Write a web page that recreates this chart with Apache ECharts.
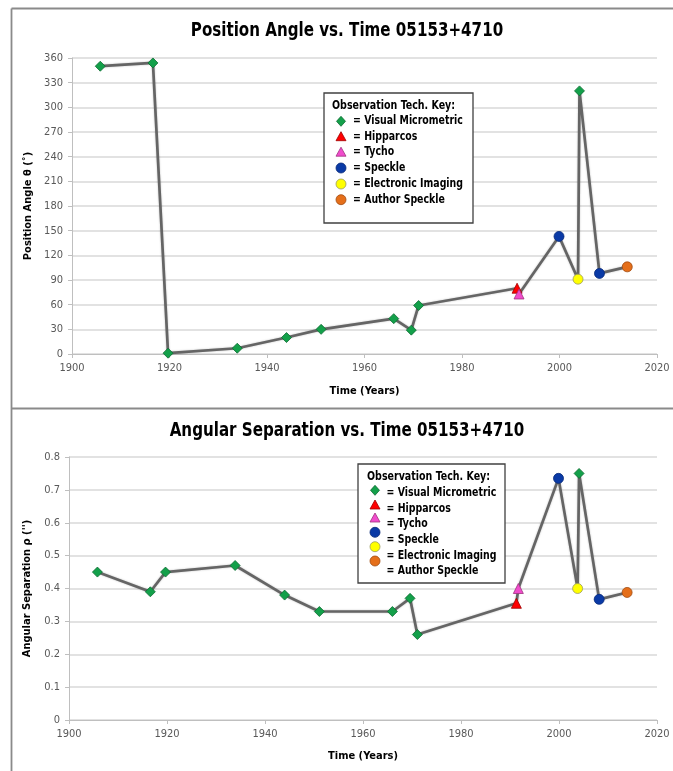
<!DOCTYPE html>
<html>
<head>
<meta charset="utf-8">
<script src="https://cdn.jsdelivr.net/npm/echarts@6/dist/echarts.min.js"></script>
<style>
  html, body { margin: 0; padding: 0; background: #fff; }
  #main { width: 673px; height: 771px; }
</style>
</head>
<body>
<div id="main"></div>
<script>
// observation data, in time order (the line joins them in this order)
var years = [1905.8, 1916.6, 1919.7, 1933.9, 1944.0, 1951.1, 1966.0, 1969.6, 1971.1,
             1991.3, 1991.7, 1999.9, 2003.8, 2004.1, 2008.2, 2013.9];
var posAngle = [350, 354, 1, 7, 20, 30, 43, 29, 59, 80, 73, 143, 91, 320, 98, 106];
var separation = [0.45, 0.39, 0.45, 0.47, 0.38, 0.33, 0.33, 0.37, 0.26,
                  0.355, 0.40, 0.735, 0.40, 0.75, 0.367, 0.388];
// technique of each observation
var tech = ['vm', 'vm', 'vm', 'vm', 'vm', 'vm', 'vm', 'vm', 'vm',
            'hip', 'tycho', 'speckle', 'ei', 'vm', 'speckle', 'author'];

var techNames = ['= Visual Micrometric', '= Hipparcos', '= Tycho', '= Speckle',
                 '= Electronic Imaging', '= Author Speckle'];
var techKeys = ['vm', 'hip', 'tycho', 'speckle', 'ei', 'author'];

var yearTicks = { min: 1900, max: 2020, interval: 20 };
var angleTicks = { min: 0, max: 360, interval: 30 };
var sepTicks = { min: 0, max: 0.8, interval: 0.1 };

var FONT = "'Liberation Sans Narrow', 'DejaVu Sans Condensed', 'Noto Sans', sans-serif";

var markStyle = {
  vm:      { symbol: 'diamond',  size: 10, color: '#13a04a', border: '#0c6a31' },
  hip:     { symbol: 'triangle', size: 10, color: '#ff0000', border: '#a00000' },
  tycho:   { symbol: 'triangle', size: 10, color: '#f04ccc', border: '#a0307f' },
  speckle: { symbol: 'circle',   size: 10, color: '#0a3aa6', border: '#082a78' },
  ei:      { symbol: 'circle',   size: 10, color: '#ffff00', border: '#9a9a60' },
  author:  { symbol: 'circle',   size: 10, color: '#e56f1a', border: '#a04a10' }
};

function buildData(values) {
  return years.map(function (y, i) {
    var s = markStyle[tech[i]];
    return {
      value: [y, values[i]],
      symbol: s.symbol,
      symbolSize: s.size,
      itemStyle: { color: s.color, borderColor: s.border, borderWidth: 0.8 }
    };
  });
}

// condensed bold text (no Calibri here, so squeeze a wider face)
function label(x, y, text, size, squeeze, align) {
  return {
    type: 'text', x: x, y: y, scaleX: squeeze, z: 11,
    style: { text: text, font: 'bold ' + size + 'px ' + FONT, fill: '#000',
             align: align || 'left', verticalAlign: 'middle' }
  };
}

function legendGraphic(box, rows) {
  var els = [];
  els.push({
    type: 'rect', shape: { x: box.x, y: box.y, width: box.w, height: box.h },
    style: { fill: '#fff', stroke: '#404040', lineWidth: 1.3 }, z: 10
  });
  els.push(label(box.hx, box.hy, 'Observation Tech. Key:', 12, 0.88));
  techKeys.forEach(function (k, i) {
    var s = markStyle[k];
    var cx = box.sx, cy = rows.symY[i], r = 5;
    var shape;
    if (s.symbol === 'diamond') {
      shape = { type: 'polygon', shape: { points: [[cx, cy - r], [cx + r - 0.5, cy], [cx, cy + r], [cx - r + 0.5, cy]] } };
    } else if (s.symbol === 'triangle') {
      shape = { type: 'polygon', shape: { points: [[cx, cy - r], [cx + r, cy + r - 1], [cx - r, cy + r - 1]] } };
    } else {
      shape = { type: 'circle', shape: { cx: cx, cy: cy, r: r } };
    }
    shape.style = { fill: s.color, stroke: s.border, lineWidth: 0.8 };
    shape.z = 11;
    els.push(shape);
    els.push(label(box.tx, rows.textY[i], techNames[i], 12, 0.87));
  });
  return els;
}

var axisLine = { show: true, lineStyle: { color: '#bfbfbf', width: 1 } };
var axisTick = { show: true, length: 4, lineStyle: { color: '#bfbfbf' } };
var axisLabel = { color: '#595959', fontSize: 11, fontFamily: FONT, margin: 9 };
var nameStyle = { color: '#000', fontWeight: 'bold', fontSize: 11, fontFamily: FONT };

function xAxis(gridIndex, gap) {
  return {
    type: 'value', gridIndex: gridIndex,
    min: yearTicks.min, max: yearTicks.max, interval: yearTicks.interval,
    name: 'Time (Years)', nameLocation: 'middle', nameGap: gap, nameTextStyle: nameStyle,
    axisLine: axisLine, axisTick: axisTick,
    axisLabel: Object.assign({}, axisLabel, {
      formatter: function (v) { return String(v); }
    }),
    splitLine: { show: false }
  };
}

function yAxis(gridIndex, ticks, name, gap) {
  return {
    type: 'value', gridIndex: gridIndex,
    min: ticks.min, max: ticks.max, interval: ticks.interval,
    name: name, nameLocation: 'middle', nameGap: gap, nameTextStyle: nameStyle,
    axisLine: axisLine, axisTick: axisTick,
    axisLabel: Object.assign({}, axisLabel, {
      formatter: function (v) { return String(Math.round(v * 10) / 10); }
    }),
    splitLine: { show: true, lineStyle: { color: '#d9d9d9', width: 1.5 } }
  };
}

var lineStyle = { color: '#656565', width: 2.7, shadowColor: 'rgba(0,0,0,0.25)', shadowBlur: 2 };

var frame = [
  { type: 'line', shape: { x1: 11.5, y1: 8.5, x2: 673, y2: 8.5 }, style: { stroke: '#8a8a8a', lineWidth: 1.8 } },
  { type: 'line', shape: { x1: 11.5, y1: 8.5, x2: 11.5, y2: 771 }, style: { stroke: '#8a8a8a', lineWidth: 1.8 } },
  { type: 'line', shape: { x1: 11.5, y1: 408.5, x2: 673, y2: 408.5 }, style: { stroke: '#8a8a8a', lineWidth: 1.8 } },
  label(347, 31, 'Position Angle vs. Time 05153+4710', 20, 0.84, 'center'),
  label(347, 431, 'Angular Separation vs. Time 05153+4710', 20, 0.84, 'center')
];

var legendTop = legendGraphic(
  { x: 324, y: 93, w: 149, h: 130, hx: 332, hy: 105.5, sx: 341, tx: 353 },
  { symY: [121.3, 136.7, 152.2, 168, 184, 199.7], textY: [121.3, 136.7, 152.2, 168, 184, 199.7] }
);
var legendBottom = legendGraphic(
  { x: 358, y: 464, w: 147, h: 119, hx: 367, hy: 477.3, sx: 375, tx: 386.5 },
  { symY: [490.3, 505, 518, 532.3, 546.7, 561], textY: [493, 508.7, 524.2, 540, 555.7, 571.2] }
);

var option = {
  animation: false,
  backgroundColor: '#fff',
  textStyle: { fontFamily: FONT },
  grid: [
    { left: 72, right: 16, top: 58, height: 296 },
    { left: 69, right: 16, top: 457, height: 263 }
  ],
  xAxis: [xAxis(0, 32), xAxis(1, 31)],
  yAxis: [
    yAxis(0, angleTicks, 'Position Angle θ (˚)', 38),
    yAxis(1, sepTicks, "Angular Separation ρ ('')", 36)
  ],
  series: [
    { type: 'line', xAxisIndex: 0, yAxisIndex: 0, data: buildData(posAngle),
      lineStyle: lineStyle, showAllSymbol: true, z: 3 },
    { type: 'line', xAxisIndex: 1, yAxisIndex: 1, data: buildData(separation),
      lineStyle: lineStyle, showAllSymbol: true, z: 3 }
  ],
  graphic: frame.concat(legendTop, legendBottom)
};

var chart = echarts.init(document.getElementById('main'));
chart.setOption(option);
</script>
</body>
</html>
